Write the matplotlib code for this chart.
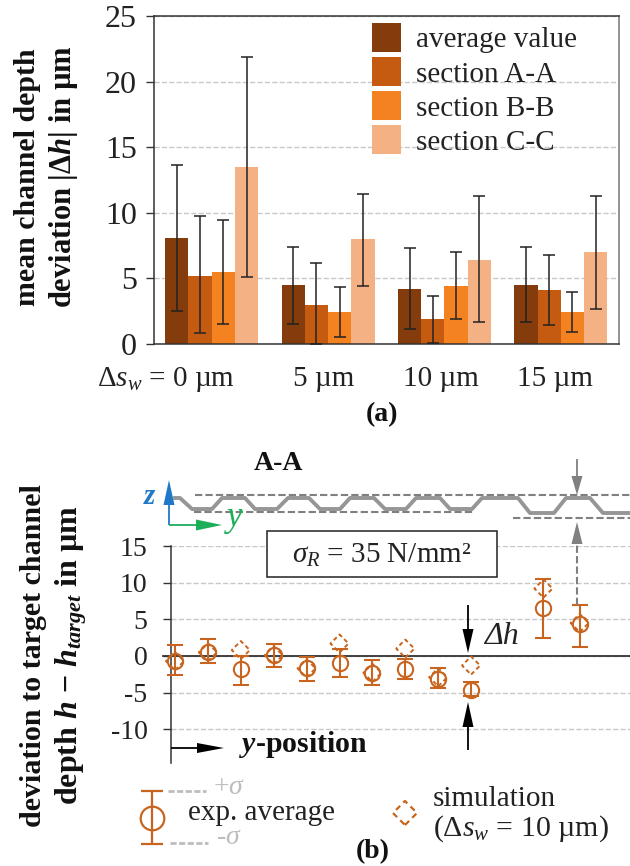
import numpy as np
import matplotlib
matplotlib.use("Agg")
import matplotlib.pyplot as plt
from matplotlib.patches import Rectangle

plt.rcParams['font.family'] = ['Liberation Serif', 'DejaVu Serif']
plt.rcParams['mathtext.fontset'] = 'custom'
plt.rcParams['mathtext.rm'] = 'Liberation Serif'
plt.rcParams['mathtext.it'] = 'Liberation Serif:italic'
plt.rcParams['mathtext.bf'] = 'Liberation Serif:bold'
plt.rcParams['mathtext.bfit'] = 'Liberation Serif:italic:bold'
plt.rcParams['mathtext.fallback'] = 'stix'
plt.rcParams['axes.unicode_minus'] = False

W, H = 630, 866

# chart (a)
categories = ['$\\Delta s_w$ = 0 µm', '5 µm', '10 µm', '15 µm']
label_shift = [-46, -4, -4, -6]
series_names = ['average value', 'section A-A', 'section B-B', 'section C-C']
series_colors = ['#843C0C', '#C55A11', '#F58220', '#F4B183']
avg_val = [8.1, 4.5, 4.2, 4.5]
sec_a = [5.2, 3.0, 1.9, 4.1]
sec_b = [5.45, 2.45, 4.4, 2.45]
sec_c = [13.5, 8.0, 6.4, 7.0]
avg_low = [2.5, 1.55, 1.15, 1.65]
avg_high = [13.65, 7.4, 7.3, 7.4]
a_low = [0.85, 0.0, 0.1, 1.45]
a_high = [9.75, 6.2, 3.65, 6.8]
b_low = [1.55, 0.5, 1.9, 0.95]
b_high = [9.45, 4.35, 7.0, 3.95]
c_low = [5.1, 4.45, 1.65, 2.7]
c_high = [21.85, 11.45, 11.25, 11.3]

# chart (b)
y_pos = [0, 1, 2, 3, 4, 5, 6, 7, 8, 9, 11.2, 12.3]
exp_val = [-0.7, 0.5, -1.8, 0.1, -1.7, -0.9, -2.3, -1.8, -3.1, -4.7, 6.6, 4.3]
exp_low = [-2.55, -1.0, -3.9, -1.45, -3.4, -2.9, -3.9, -3.2, -4.4, -5.5, 2.4, 1.2]
exp_high = [1.46, 2.3, 0.0, 1.6, -0.2, 1.0, -0.6, -0.4, -1.6, -3.6, 10.5, 7.0]
sim_val = [-0.7, 0.5, 0.8, 0.1, -1.7, 1.7, -2.3, 1.0, -2.9, -1.3, 9.2, 4.5]

# section sketch, picture pixels
profile_x = [175, 180, 192, 212, 222, 245, 255, 277, 288, 309, 320, 340, 350, 374, 385, 406, 416, 440, 450, 472, 482, 518, 530, 554, 566, 590, 603, 630]
profile_y = [498, 498, 509, 509, 498, 498, 509, 509, 498, 498, 509, 509, 498, 498, 509, 509, 498, 498, 509, 509, 498, 498, 513, 513, 498, 498, 513, 513]

ORANGE = '#C8641E'
GREY = '#808080'
GRID = '#C8C8C8'
FS = 21


def axes_px(fig, left, top, right, bottom):
    return fig.add_axes([left / W, 1 - bottom / H, (right - left) / W, (bottom - top) / H])


fig = plt.figure(figsize=(W / 100, H / 100), dpi=100)

# ---- (a)
ax = axes_px(fig, 153.5, 16, 619, 344)
x = np.arange(len(categories))
rows = [(avg_val, avg_low, avg_high), (sec_a, a_low, a_high), (sec_b, b_low, b_high), (sec_c, c_low, c_high)]
handles = []
for i, (vals, low, high) in enumerate(rows):
    vals = np.array(vals)
    yerr = [vals - np.array(low), np.array(high) - vals]
    b = ax.bar(x + (i - 1.5) * 0.2, vals, 0.2, color=series_colors[i], zorder=2,
               yerr=yerr, error_kw=dict(ecolor='#222222', elinewidth=1.1, capsize=4, capthick=1.1, zorder=3))
    handles.append(b)
ax.set_xlim(-0.5, 3.5)
ax.set_ylim(0, 25)
ax.set_yticks([0, 5, 10, 15, 20, 25])
ax.set_xticks([])
ax.tick_params(axis='y', labelsize=23, length=6, width=1, color='#333333', pad=6, labelcolor='#222222')
ax.grid(axis='y', color=GRID, ls='--', lw=1, zorder=0)
ax.set_axisbelow(True)
for s in ax.spines.values():
    s.set_color('#333333')
    s.set_linewidth(1.1)
ax.spines['right'].set_color('#777777')
for i, lab in enumerate(categories):
    ax.annotate(lab, (x[i], 0), xytext=(label_shift[i], -35), textcoords='offset pixels',
                ha='center', va='center', fontsize=FS, color='#222222', annotation_clip=False)
fig.legend(handles, series_names, loc='upper left', bbox_to_anchor=(372 / W, 1 - 23 / H),
           frameon=False, fontsize=FS, handlelength=1.0, handleheight=1.15, handletextpad=0.5,
           labelspacing=0.13, borderpad=0, borderaxespad=0, labelcolor='#222222')

# ---- (b)
ax2 = axes_px(fig, 171, 546, 630, 763)
ax2.patch.set_alpha(0)
ax2.set_xlim(-4 / 32.9, 455 / 32.9)
ax2.set_ylim(-14.6, 15)
ax2.set_yticks([-10, -5, 0, 5, 10, 15])
ax2.set_xticks([])
ax2.tick_params(axis='y', labelsize=20, length=6, width=1, color='#333333', pad=11, labelcolor='#222222')
ax2.grid(axis='y', color=GRID, ls='--', lw=1, zorder=0)
ax2.set_axisbelow(True)
for s in ['top', 'right', 'bottom']:
    ax2.spines[s].set_visible(False)
ax2.spines['left'].set_color('#333333')
ax2.spines['left'].set_linewidth(1.1)
ax2.plot([-12 / 32.9, 455 / 32.9], [0, 0], color='#333333', lw=1.3, clip_on=False, zorder=1)
exp_val_a = np.array(exp_val)
ax2.errorbar(y_pos, exp_val_a, yerr=[exp_val_a - np.array(exp_low), np.array(exp_high) - exp_val_a],
             fmt='o', mfc='none', mec=ORANGE, mew=1.5, ms=11, ecolor=ORANGE, elinewidth=1.5,
             capsize=5.8, capthick=1.5, zorder=3, clip_on=False)
ax2.scatter(y_pos, sim_val, marker='D', s=85, facecolors='none', edgecolors=ORANGE,
            linewidths=1.4, linestyles=(0, (2.2, 1.6)), zorder=3, clip_on=False)

# ---- overlay in picture pixels: sketch, arrows, notes
ov = fig.add_axes([0, 0, 1, 1], zorder=5)
ov.set_xlim(0, W)
ov.set_ylim(H, 0)
ov.axis('off')


def arrow(x0, y0, x1, y1, color, head_len, head_w, lw=1.3, ls='-'):
    d = np.array([x1 - x0, y1 - y0], float)
    n = np.hypot(*d)
    d = d / n
    p = np.array([-d[1], d[0]])
    tip = np.array([x1, y1], float)
    base = tip - d * head_len
    ov.plot([x0, base[0]], [y0, base[1]], color=color, lw=lw, ls=ls, solid_capstyle='butt')
    ov.fill([tip[0], base[0] + p[0] * head_w / 2, base[0] - p[0] * head_w / 2],
            [tip[1], base[1] + p[1] * head_w / 2, base[1] - p[1] * head_w / 2], color=color, lw=0)


ov.plot(profile_x, profile_y, color='#969696', lw=2.8, solid_joinstyle='round')
ov.plot([195, 630], [495, 495], color=GREY, lw=1.5, ls=(0, (3.5, 1.5)))
ov.plot([194, 475], [512, 512], color=GREY, lw=1.5, ls=(0, (3.5, 1.5)))
ov.plot([513, 630], [518, 518], color=GREY, lw=1.5, ls=(0, (3.5, 1.5)))
arrow(577, 459, 577, 495, GREY, 19, 11)
arrow(577, 605, 577, 522, GREY, 22, 11, lw=1.5, ls=(0, (3.5, 1.5)))
arrow(169, 525, 169, 480, '#1F78C8', 25, 11)
arrow(169, 525, 222, 525, '#1DAE5A', 26, 11)
ov.text(150, 497, 'z', color='#1F78C8', fontsize=FS, style='italic', weight='bold', ha='center', va='center')
ov.text(235, 518, 'y', color='#1DAE5A', fontsize=FS + 4, style='italic', ha='center', va='center')
ov.text(278, 464, 'A-A', fontsize=FS - 1, weight='bold', ha='center', va='center', color='#111111')

ov.add_patch(Rectangle((266.7, 531), 230, 45.7, fc='white', ec='#222222', lw=1.1))
ov.text(382, 555, '$\\sigma_R$ = 35 N/mm²', fontsize=FS, ha='center', va='center', color='#222222')

arrow(468, 605, 468, 653, 'black', 24, 11)
arrow(468, 750, 468, 702, 'black', 25, 11)
ov.text(484, 636, 'Δh', fontsize=FS + 2, style='italic', ha='left', va='center', color='#222222')
arrow(171, 748, 224, 748, 'black', 27, 10)
ov.text(239, 744, '$\\mathbfit{y}$-position', fontsize=21.5, weight='bold', ha='left', va='center', color='#111111')

# y labels
ov.text(28, 177, 'mean channel depth', fontsize=21.5, weight='bold', rotation=90, ha='center', va='center', color='#111111')
ov.text(64, 177, 'deviation |Δ$\\mathbfit{h}$| in µm', fontsize=22, weight='bold', rotation=90, ha='center', va='center', color='#111111')
ov.text(34, 656, 'deviation to target channel', fontsize=21.6, weight='bold', rotation=90, ha='center', va='center', color='#111111')
ov.text(71, 655, 'depth $\\mathbfit{h}$ − $\\mathbfit{h}_{\\mathbfit{target}}$ in µm', fontsize=23, weight='bold', rotation=90, ha='center', va='center', color='#111111')

ov.text(382, 415, '(a)', fontsize=FS - 1, weight='bold', ha='center', va='center', color='#111111')
ov.text(373, 852, '(b)', fontsize=FS - 1, weight='bold', ha='center', va='center', color='#111111')

# legend of (b)
ov.errorbar([152], [818], yerr=[[27], [26]], fmt='o', mfc='none', mec=ORANGE, mew=1.6, ms=17,
            ecolor=ORANGE, elinewidth=1.6, capsize=8, capthick=1.6)
ov.scatter([405], [813], marker='D', s=150, facecolors='none', edgecolors=ORANGE,
           linewidths=1.6, linestyles=(0, (2.6, 2.0)))
ov.text(188, 813, 'exp. average', fontsize=FS, ha='left', va='center', color='#222222')
ov.plot([168, 206], [791, 791], color='#BDBDBD', lw=2, ls=(0, (2.2, 0.9)))
ov.plot([170, 208], [843, 843], color='#BDBDBD', lw=2, ls=(0, (2.2, 0.9)))
ov.text(213, 788, '+$\\sigma$', fontsize=FS - 1, color='#BDBDBD', ha='left', va='center')
ov.text(216, 838, '-$\\sigma$', fontsize=FS - 1, color='#BDBDBD', ha='left', va='center')
ov.text(433, 799, 'simulation', fontsize=FS, ha='left', va='center', color='#222222')
ov.text(433, 829, '($\\Delta s_w$ = 10 µm)', fontsize=FS + 0.5, ha='left', va='center', color='#222222')

fig.savefig('out.png', dpi=100)
